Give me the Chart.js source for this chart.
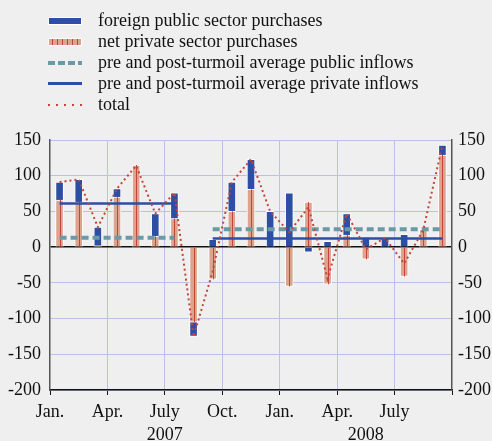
<!DOCTYPE html>
<html>
<head>
<meta charset="utf-8">
<script src="https://cdn.jsdelivr.net/npm/chart.js@4"></script>
<style>
  html, body { margin: 0; padding: 0; background: #efefef; }
  #wrap { position: relative; width: 492px; height: 441px; }
  #chart { position: absolute; left: 0; top: 0; }
  .legend { position: absolute; left: 48px; top: 10px; font-family: "Liberation Serif", serif; font-size: 18px; color: #111; }
  .row { height: 21px; line-height: 21px; display: flex; align-items: center; white-space: nowrap; }
  .sw { width: 34px; margin-right: 16px; box-sizing: border-box; flex: none; }
  .sw-public { height: 8px; background: #2d4fa3; border: 1px solid #fff; }
  .sw-private { height: 8px; border: 1px solid #fff; background: repeating-linear-gradient(90deg, #dca38e 0 3px, #c0463a 3px 4px, #dca38e 4px 5px); }
  .sw-avgpub { height: 4px; background: repeating-linear-gradient(90deg, #6b9aa6 0 7px, transparent 7px 10px); }
  .sw-avgpriv { height: 2.5px; background: #2d4fa3; }
  .sw-total { height: 2px; background: repeating-linear-gradient(90deg, #c0463a 0 2px, transparent 2px 8px); }
</style>
</head>
<body>
<div id="wrap">
  <canvas id="chart" width="492" height="441"></canvas>
  <div class="legend">
    <div class="row"><div class="sw sw-public"></div>foreign public sector purchases</div>
    <div class="row"><div class="sw sw-private"></div>net private sector purchases</div>
    <div class="row"><div class="sw sw-avgpub"></div>pre and post-turmoil average public inflows</div>
    <div class="row"><div class="sw sw-avgpriv"></div>pre and post-turmoil average private inflows</div>
    <div class="row"><div class="sw sw-total"></div>total</div>
  </div>
</div>
<script>
// monthly data, Jan 2007 - Sep 2008
const months = ["2007-01","2007-02","2007-03","2007-04","2007-05","2007-06","2007-07","2007-08","2007-09","2007-10","2007-11","2007-12",
                "2008-01","2008-02","2008-03","2008-04","2008-05","2008-06","2008-07","2008-08","2008-09"];
const privateVals = [66, 63, 2, 70, 115, 15, 40, -105, -45, 50, 81, 0, -55, 63, -52, 17, -17, 0, -41, 25, 129];
const publicVals = [25, 32, 26, 12, -1, 32, 36, -20, 11, 41, 42, 50, 76, -7, 8, 30, 14, 13, 18, -1, 14];

// averages: [pre-turmoil, post-turmoil]
const avgPublic = [13, 25];
const avgPrivate = [61, 12];
const preRange = [0, 6];    // month indexes
const postRange = [8, 20];

const quarterTicks = [0, 3, 6, 9, 12, 15, 18, 21];
const quarterLabels = ["Jan.", "Apr.", "July", "Oct.", "Jan.", "Apr.", "July", ""];
const yearLabels = [{ label: "2007", at: 6 }, { label: "2008", at: 16.5 }];
const yTicks = [-200, -150, -100, -50, 0, 50, 100, 150];

const totals = privateVals.map((v, i) => v + publicVals[i]);
const pts = vals => vals.map((v, i) => ({ x: i + 0.5, y: v }));
const seg = (range, v) => [{ x: range[0] + 0.5, y: v }, { x: range[1] + 0.5, y: v }];

const font = { family: "Liberation Serif", size: 18 };
const gridColor = "#bcc0e6";

const stripePlugin = {
  id: "stripes",
  afterDatasetDraw(chart, args) {
    if (chart.data.datasets[args.index].label !== "net private sector purchases") return;
    const ctx = chart.ctx;
    ctx.save();
    ctx.strokeStyle = "#c0463a";
    ctx.lineWidth = 1;
    args.meta.data.forEach(el => {
      if (Math.abs(el.y - el.base) < 2) return;
      ctx.beginPath();
      ctx.moveTo(Math.round(el.x) + 0.5, el.y);
      ctx.lineTo(Math.round(el.x) + 0.5, el.base);
      ctx.stroke();
    });
    ctx.restore();
  }
};

const yearPlugin = {
  id: "years",
  afterDraw(chart) {
    const ctx = chart.ctx;
    const xs = chart.scales.x;
    ctx.save();
    ctx.font = "18px 'Liberation Serif'";
    ctx.fillStyle = "#111";
    ctx.textAlign = "center";
    ctx.textBaseline = "alphabetic";
    yearLabels.forEach(y => ctx.fillText(y.label, xs.getPixelForValue(y.at), 440));
    ctx.restore();
  }
};

new Chart(document.getElementById("chart"), {
  data: {
    datasets: [
      { type: "line", label: "total", data: pts(totals), borderColor: "#c0463a", borderWidth: 2, borderDash: [2, 3], pointRadius: 0, tension: 0 },
      { type: "line", label: "pre private", data: seg(preRange, avgPrivate[0]), borderColor: "#2d4fa3", borderWidth: 2.5, pointRadius: 0 },
      { type: "line", label: "post private", data: seg(postRange, avgPrivate[1]), borderColor: "#2d4fa3", borderWidth: 2.5, pointRadius: 0 },
      { type: "line", label: "pre public", data: seg(preRange, avgPublic[0]), borderColor: "#6b9aa6", borderWidth: 4, borderDash: [7, 4], pointRadius: 0 },
      { type: "line", label: "post public", data: seg(postRange, avgPublic[1]), borderColor: "#6b9aa6", borderWidth: 4, borderDash: [7, 4], pointRadius: 0 },
      { type: "bar", label: "net private sector purchases", data: pts(privateVals), stack: "a", grouped: false,
        backgroundColor: "#dca38e", borderColor: "#fff", borderWidth: 1, barThickness: 8 },
      { type: "bar", label: "foreign public sector purchases", data: pts(publicVals), stack: "a", grouped: false,
        backgroundColor: "#2d4fa3", borderColor: "#fff", borderWidth: 1, barThickness: 8 }
    ]
  },
  options: {
    responsive: false,
    animation: false,
    layout: { padding: { top: 140, left: 0, right: 0, bottom: 0 } },
    plugins: { legend: { display: false }, tooltip: { enabled: false } },
    scales: {
      x: {
        type: "linear", min: 0, max: 21, offset: false,
        afterBuildTicks: s => { s.ticks = quarterTicks.map(v => ({ value: v })); },
        afterFit: s => { s.height = 51; },
        ticks: { font: font, color: "#111", padding: 6, maxRotation: 0, autoSkip: false,
                 callback: v => quarterLabels[quarterTicks.indexOf(v)] },
        grid: { offset: false, color: c => (c.tick && (c.tick.value === 0 || c.tick.value === 21)) ? "rgba(0,0,0,0)" : gridColor,
                tickColor: "#111", tickLength: 5, lineWidth: 1 },
        border: { color: "#111", width: 1.5 }
      },
      y: {
        position: "left", min: -200, max: 150,
        afterBuildTicks: s => { s.ticks = yTicks.map(v => ({ value: v })); },
        afterFit: s => { s.width = 50; },
        ticks: { font: font, color: "#111", padding: 9 },
        grid: { color: c => c.tick && c.tick.value === 0 ? "#111" : gridColor,
                lineWidth: c => c.tick && c.tick.value === 0 ? 1.5 : 1, drawTicks: false },
        border: { color: "#555", width: 1.5 }
      },
      y2: {
        position: "right", min: -200, max: 150,
        afterBuildTicks: s => { s.ticks = yTicks.map(v => ({ value: v })); },
        afterFit: s => { s.width = 40; },
        ticks: { font: font, color: "#111", padding: 6 },
        grid: { drawOnChartArea: false, drawTicks: false },
        border: { color: "#555", width: 1.5 }
      }
    }
  },
  plugins: [stripePlugin, yearPlugin]
});
</script>
</body>
</html>
